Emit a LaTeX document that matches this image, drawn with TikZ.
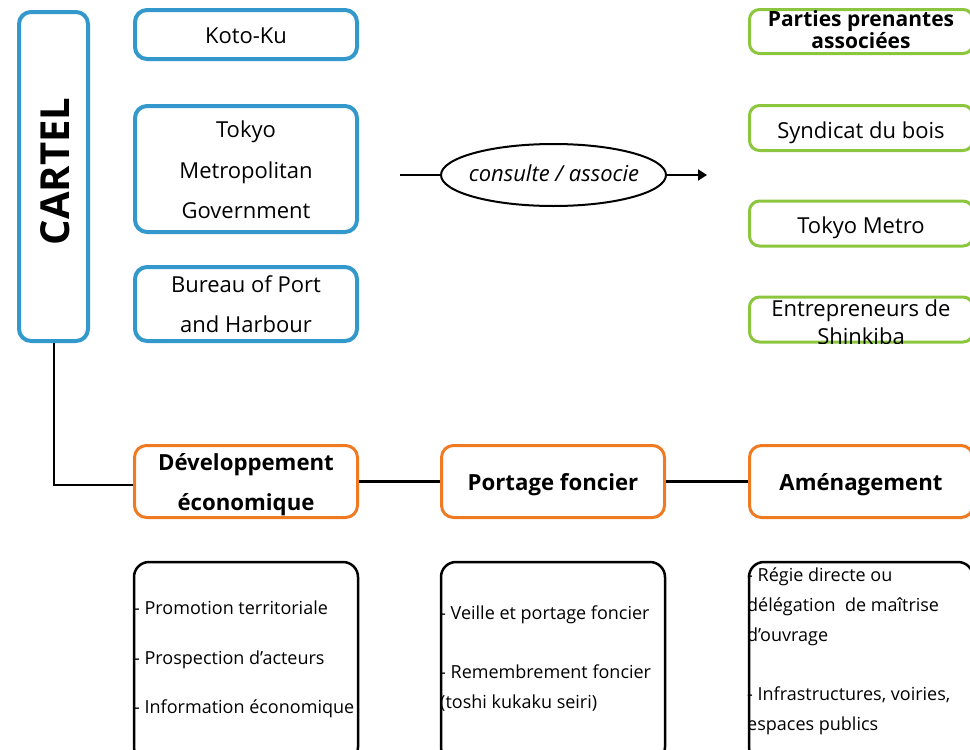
\documentclass[tikz,border=0pt]{standalone}
\usepackage{fontspec}
\setmainfont{Open Sans}
\usetikzlibrary{shapes.geometric,arrows.meta}
\definecolor{cblue}{HTML}{3399CC}
\definecolor{cgreen}{HTML}{8CC63F}
\definecolor{corange}{HTML}{F07A22}
\begin{document}
\begin{tikzpicture}[x=1pt,y=-1pt,
  bluebox/.style={draw=cblue, line width=4pt, rounded corners=12pt, inner sep=0pt},
  greenbox/.style={draw=cgreen, line width=3pt, rounded corners=10pt, inner sep=0pt},
  orangebox/.style={draw=corange, line width=3pt, rounded corners=12pt, inner sep=0pt},
  listbox/.style={draw=black, line width=2.5pt, rounded corners=15pt, inner sep=0pt},
  txt/.style={anchor=base, inner sep=0pt, font=\fontsize{22}{26}\selectfont},
  gtxt/.style={anchor=base, inner sep=0pt, font=\fontsize{22}{26}\selectfont},
  btxt/.style={anchor=base, inner sep=0pt, font=\bfseries\fontsize{22.2}{26}\selectfont},
  ltxt/.style={anchor=base west, inner sep=0pt, font=\fontsize{18}{20}\selectfont},
  link/.style={draw=black, line width=2pt},
  thicklink/.style={draw=black, line width=3pt},
]
\useasboundingbox (0,0) rectangle (970,750);
\clip (0,0) rectangle (970,750);

% CARTEL
\node[bluebox, minimum width=69pt, minimum height=329pt] (cartel) at (53.5,176.5) {};
\node[rotate=90, inner sep=0pt, font=\bfseries\fontsize{40}{42}\selectfont] (cartelt) at (55,171.5) {CARTEL};

% blue boxes
\node[bluebox, minimum width=222pt, minimum height=49pt] (koto) at (246,34.5) {};
\node[txt] (kotot) at (246,43) {Koto-Ku};
\node[bluebox, minimum width=222pt, minimum height=126pt] (tmg) at (246,169) {};
\node[txt] (tmga) at (246,137) {Tokyo};
\node[txt] (tmgb) at (246,178) {Metropolitan};
\node[txt] (tmgc) at (246,218) {Government};
\node[bluebox, minimum width=222pt, minimum height=74pt] (bureau) at (246,304) {};
\node[txt] (bura) at (246,292) {Bureau of Port};
\node[txt] (burb) at (246,332) {and Harbour};

% green boxes
\node[greenbox, minimum width=223.5pt, minimum height=44pt] (parties) at (861.25,31.5) {};
\node[inner sep=0pt, align=center, font=\bfseries\fontsize{21}{20}\selectfont] (partiest) at (861,30) {Parties prenantes\\associées};
\node[greenbox, minimum width=223.5pt, minimum height=45pt] (synd) at (861.25,128) {};
\node[gtxt] (syndt) at (861,138) {Syndicat du bois};
\node[greenbox, minimum width=223.5pt, minimum height=45pt] (metro) at (861.25,223.5) {};
\node[gtxt] (metrot) at (861,233) {Tokyo Metro};
\node[greenbox, minimum width=223.5pt, minimum height=45pt] (ent) at (861.25,319.5) {};
\begin{scope}
\clip (ent.north west) rectangle (ent.south east);
\node[gtxt] (enta) at (861,316) {Entrepreneurs de};
\node[gtxt] (entb) at (861,344) {Shinkiba};
\end{scope}

% ellipse
\coordinate (cin) at (400,175);
\coordinate (cout) at (707,175);
\node[ellipse, draw, line width=2pt, minimum width=225pt, minimum height=62pt, inner sep=0pt] (cons) at (553.5,175) {};
\node[anchor=base, inner sep=0pt, font=\itshape\fontsize{22}{24}\selectfont] (const) at (554,181) {consulte / associe};
\draw[link] (cin) -- (cons.west);
\draw[link, -{Triangle[length=9pt,width=11pt]}] (cons.east) -- (cout);

% orange boxes
\node[orangebox, minimum width=223pt, minimum height=72pt] (dev) at (246,481.5) {};
\node[btxt] (deva) at (246,470) {Développement};
\node[btxt] (devb) at (246,510) {économique};
\node[orangebox, minimum width=223pt, minimum height=72pt] (port) at (553,481.5) {};
\node[btxt] (portt) at (553,490) {Portage foncier};
\node[orangebox, minimum width=223.5pt, minimum height=72pt] (amen) at (861.25,481.5) {};
\node[btxt] (ament) at (861,490) {Aménagement};

% connectors
\coordinate (devin) at ([yshift=-3pt]dev.west);
\draw[link] (cartel.south) |- (devin);
\draw[thicklink] (dev.east) -- (port.west);
\draw[thicklink] (port.east) -- (amen.west);

% list boxes
\node[listbox, minimum width=224pt, minimum height=200pt] (l1) at (246,662) {};
\node[ltxt] (l1a) at (134,614) {- Promotion territoriale};
\node[ltxt] (l1b) at (134,664) {- Prospection d’acteurs};
\node[ltxt] (l1c) at (134,713) {- Information économique};
\node[listbox, minimum width=224pt, minimum height=200pt] (l2) at (553,662) {};
\node[ltxt] (l2a) at (440,619) {- Veille et portage foncier};
\node[ltxt] (l2b) at (440,678) {- Remembrement foncier};
\node[ltxt] (l2c) at (440,708) {(toshi kukaku seiri)};
\node[listbox, minimum width=224pt, minimum height=200pt] (l3) at (861,662) {};
\node[ltxt] (l3a) at (747,581) {- Régie directe ou};
\node[ltxt] (l3b) at (747,611) {délégation\ \ de maîtrise};
\node[ltxt] (l3c) at (747,641) {d’ouvrage};
\node[ltxt] (l3d) at (747,700) {- Infrastructures, voiries,};
\node[ltxt] (l3e) at (747,730) {espaces publics};
\end{tikzpicture}
\end{document}
